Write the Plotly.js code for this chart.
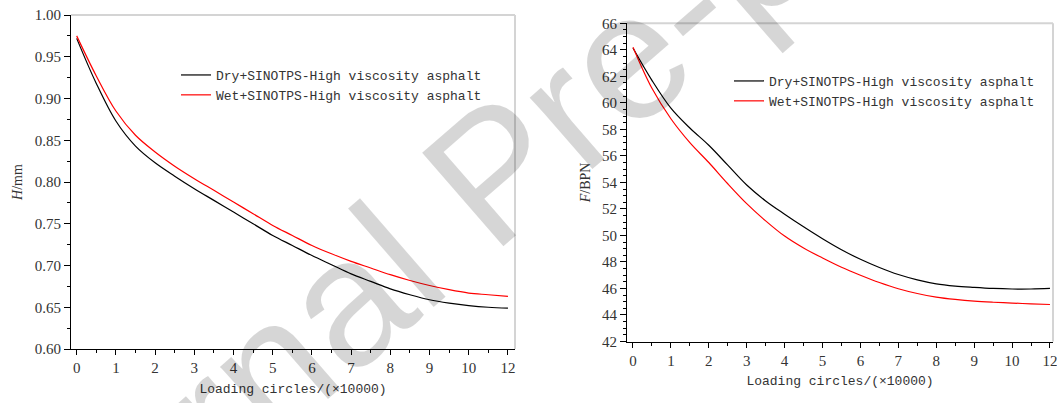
<!DOCTYPE html>
<html>
<head>
<meta charset="utf-8">
<script src="https://cdn.plot.ly/plotly-3.0.1.min.js"></script>
<style>
  html, body { margin: 0; padding: 0; background: #fff; }
  #chart { width: 1057px; height: 403px; }
</style>
</head>
<body>
<div id="chart"></div>
<script>
// Loading circles (x 10000): evenly spaced axis positions and the labels printed under them
const cyclePositions = [0, 0.5, 1, 1.5, 2, 2.5, 3, 3.5, 4, 4.5, 5, 5.5, 6, 6.5, 7, 7.5, 8, 8.5, 9, 9.5, 10, 10.5, 11];
const cycleTickValues = [0, 1, 2, 3, 4, 5, 6, 7, 8, 9, 10, 11];
const cycleTickLabels = ['0', '1', '2', '3', '4', '5', '6', '7', '8', '9', '10', '12'];

// Rut depth H (mm)
const heightDry = [0.972, 0.918, 0.873, 0.843, 0.823, 0.807, 0.792, 0.778, 0.764, 0.750, 0.736, 0.724, 0.712, 0.701, 0.690, 0.681, 0.672, 0.665, 0.659, 0.655, 0.652, 0.650, 0.649];
const heightWet = [0.975, 0.927, 0.885, 0.856, 0.836, 0.819, 0.804, 0.790, 0.776, 0.762, 0.748, 0.736, 0.724, 0.714, 0.705, 0.697, 0.689, 0.682, 0.676, 0.671, 0.667, 0.665, 0.663];

// Friction F (BPN)
const frictionDry = [64.14, 61.7, 59.6, 58.1, 56.8, 55.3, 53.8, 52.6, 51.6, 50.65, 49.75, 48.92, 48.2, 47.58, 47.05, 46.65, 46.35, 46.18, 46.08, 46.0, 45.96, 45.96, 46.0];
const frictionWet = [64.2, 61.1, 58.8, 57.0, 55.5, 53.9, 52.4, 51.1, 49.95, 49.05, 48.3, 47.6, 47.0, 46.45, 45.98, 45.62, 45.35, 45.17, 45.04, 44.96, 44.9, 44.84, 44.79];

const seriesNames = ['Dry+SINOTPS-High viscosity asphalt', 'Wet+SINOTPS-High viscosity asphalt'];
const seriesColors = ['#000000', '#ff0000'];

const W = 1057, H = 403;
const tickFont = { family: 'Liberation Serif, DejaVu Serif, serif', size: 15, color: '#333333' };
const monoFont = { family: 'Liberation Mono, DejaVu Sans Mono, monospace', size: 13, color: '#333333' };

function line(x, y, name, color, xa, ya, legend) {
  return {
    x: x, y: y, name: name, type: 'scatter', mode: 'lines',
    line: { color: color, width: 1.2, shape: 'spline', smoothing: 1 },
    xaxis: xa, yaxis: ya, legend: legend, showlegend: true
  };
}

const traces = [
  line(cyclePositions, heightDry, seriesNames[0], seriesColors[0], 'x', 'y', 'legend'),
  line(cyclePositions, heightWet, seriesNames[1], seriesColors[1], 'x', 'y', 'legend'),
  line(cyclePositions, frictionDry, seriesNames[0], seriesColors[0], 'x2', 'y2', 'legend2'),
  line(cyclePositions, frictionWet, seriesNames[1], seriesColors[1], 'x2', 'y2', 'legend2')
];

function xAxis(domain, range, anchor) {
  return {
    domain: domain, range: range, anchor: anchor,
    tickmode: 'array', tickvals: cycleTickValues, ticktext: cycleTickLabels,
    ticks: 'outside', ticklen: 5, tickwidth: 1, tickcolor: '#000',
    minor: { tick0: 0, dtick: 0.5, ticks: 'outside', ticklen: 3, tickcolor: '#000', tickwidth: 1 },
    showline: true, linecolor: '#000', linewidth: 1,
    showgrid: false, zeroline: false,
    tickfont: tickFont, ticklabeloverflow: 'allow',
    title: { text: 'Loading circles/(×10000)', font: monoFont, standoff: 8 }
  };
}

function yAxis(domain, range, anchor, dtick, minorDtick, fmt, titleText) {
  return {
    domain: domain, range: range, anchor: anchor,
    tickmode: 'linear', dtick: dtick, tickformat: fmt,
    ticks: 'outside', ticklen: 6, tickwidth: 1, tickcolor: '#000',
    minor: { dtick: minorDtick, ticks: 'outside', ticklen: 3, tickcolor: '#000', tickwidth: 1 },
    showline: true, linecolor: '#000', linewidth: 1,
    showgrid: false, zeroline: false,
    tickfont: tickFont,
    title: { text: titleText, font: { family: 'Liberation Serif, serif', size: 14, color: '#333333' }, standoff: 8 }
  };
}

// light frame on the top and right edges of each plot area
function frame(xref, yref) {
  const st = { type: 'line', xref: xref, yref: yref, line: { color: '#d4d4d4', width: 2 }, layer: 'below' };
  return [
    Object.assign({}, st, { x0: 0, x1: 1, y0: 1, y1: 1 }),
    Object.assign({}, st, { x0: 1, x1: 1, y0: 0, y1: 1 })
  ];
}

const layout = {
  width: W, height: H,
  margin: { l: 0, r: 0, t: 0, b: 0 },
  paper_bgcolor: '#ffffff', plot_bgcolor: '#ffffff',
  showlegend: true,
  xaxis: xAxis([71 / W, 515 / W], [-0.145, 11.18], 'y'),
  yaxis: yAxis([1 - 349 / H, 1 - 15 / H], [0.60, 1.00], 'x', 0.05, 0.025, '.2f', '<i>H</i>/mm'),
  xaxis2: xAxis([627 / W, 1053 / W], [-0.158, 11.08], 'y2'),
  yaxis2: yAxis([1 - 341.5 / H, 1 - 23.3 / H], [42, 66], 'x2', 2, 0.5, 'd', '<i>F</i>/BPN'),
  legend: {
    x: 176 / W, y: 1 - 60 / H, xanchor: 'left', yanchor: 'top',
    bgcolor: 'rgba(0,0,0,0)', font: monoFont, tracegroupgap: 0, itemwidth: 30
  },
  legend2: {
    x: 729 / W, y: 1 - 66 / H, xanchor: 'left', yanchor: 'top',
    bgcolor: 'rgba(0,0,0,0)', font: monoFont, tracegroupgap: 0, itemwidth: 30
  },
  shapes: frame('x domain', 'y domain').concat(frame('x2 domain', 'y2 domain')),
  annotations: [{
    text: 'Journal Pre-proof', xref: 'paper', yref: 'paper',
    x: 493 / W, y: 1 - 172 / H, showarrow: false, textangle: -41,
    font: { family: 'Liberation Sans, Arial, sans-serif', size: 180, color: 'rgba(0,0,0,0.16)' }
  }]
};

Plotly.newPlot('chart', traces, layout, { displayModeBar: false, staticPlot: true });
</script>
</body>
</html>
